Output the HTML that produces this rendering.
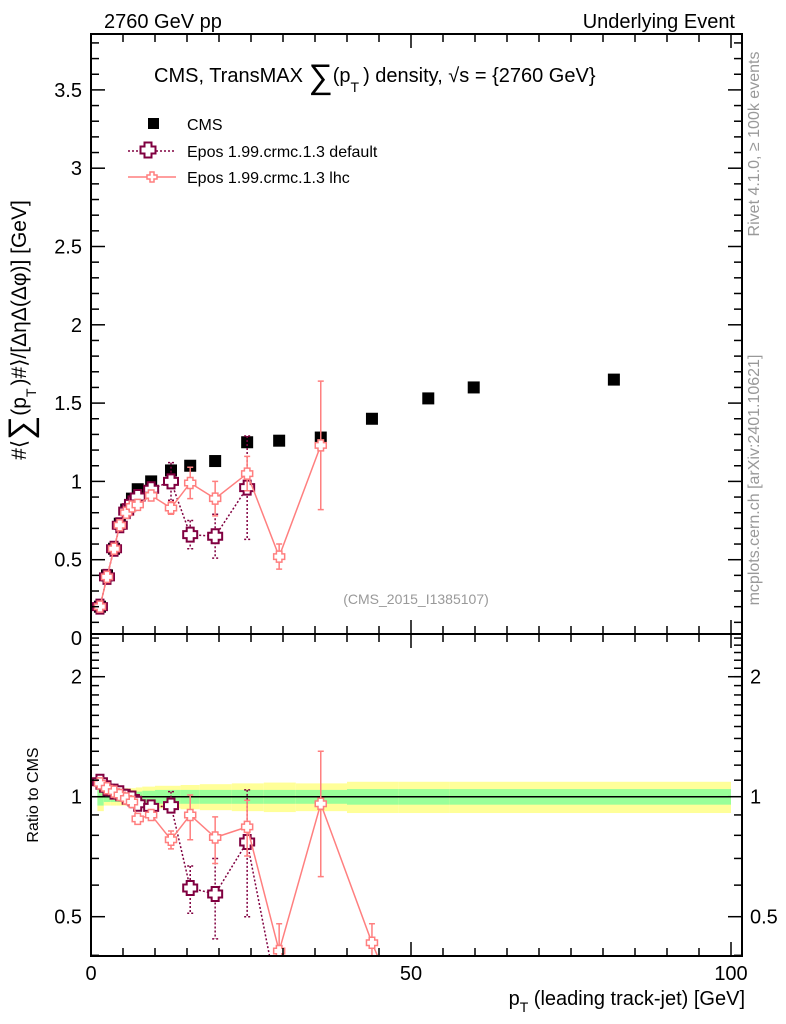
<!DOCTYPE html>
<html><head><meta charset="utf-8"><style>
html,body{margin:0;padding:0;background:#fff;width:786px;height:1024px;overflow:hidden;}
svg{display:block;font-family:"Liberation Sans",sans-serif;}
</style></head><body>
<svg id="c" width="786" height="1024" viewBox="0 0 786 1024">
<text x="104" y="28" font-size="20">2760 GeV pp</text>
<text x="735" y="28" font-size="20" text-anchor="end">Underlying Event</text>
<text x="154" y="82" font-size="20">CMS, TransMAX <tspan font-size="34" dy="6">∑</tspan><tspan dy="-6">(p</tspan><tspan font-size="14" dy="10">T</tspan><tspan dy="-10" dx="4">) density, √s = {2760 GeV}</tspan></text>
<text transform="translate(759,144) rotate(-90)" font-size="16" fill="#999" text-anchor="middle">Rivet 4.1.0, ≥ 100k events</text>
<text transform="translate(759,480) rotate(-90)" font-size="16" fill="#999" text-anchor="middle">mcplots.cern.ch [arXiv:2401.10621]</text>
<text x="416" y="604" font-size="14" fill="#999" text-anchor="middle">(CMS_2015_I1385107)</text>
<text transform="translate(26,330) rotate(-90)" font-size="21" text-anchor="middle">#⟨<tspan font-size="34" dy="6">∑</tspan><tspan dy="-6">(p</tspan><tspan font-size="14" dy="10">T</tspan><tspan dy="-10" dx="3">)#⟩/[ΔηΔ(Δφ)] [GeV]</tspan></text>
<text transform="translate(38,795) rotate(-90)" font-size="16" text-anchor="middle">Ratio to CMS</text>
<text x="745" y="1005" font-size="20" text-anchor="end">p<tspan font-size="14" dy="7">T</tspan><tspan dy="-7"> (leading track-jet) [GeV]</tspan></text>
<g>
<rect x="148" y="118" width="11" height="11" fill="#000"/>
<text x="187" y="130" font-size="16">CMS</text>
<line x1="128" y1="151" x2="176" y2="151" stroke="#800040" stroke-width="1.5" stroke-dasharray="2,2"/>
<path d="M148,144h7v4h4v7h-4v4h-7v-4h-4v-7h4z" transform="translate(-3.5,-1.5)" fill="#fff" stroke="#800040" stroke-width="2"/>
<text x="187" y="157" font-size="16">Epos 1.99.crmc.1.3 default</text>
<line x1="128" y1="177" x2="176" y2="177" stroke="#ff7f7f" stroke-width="1.5"/>
<path d="M150,172h4v3h3v4h-3v3h-4v-3h-3v-4h3z" fill="#fff" stroke="#ff7f7f" stroke-width="1.5"/>
<text x="187" y="183" font-size="16">Epos 1.99.crmc.1.3 lhc</text>
</g>
<g id="g"></g>
</svg>
<script>
const xVals=[1.4,2.5,3.6,4.5,5.5,6.4,7.3,9.4,12.5,15.5,19.4,24.4,29.4,35.9,43.9,52.7,59.8,81.7];
const cmsVals=[0.20,0.40,0.57,0.73,0.82,0.89,0.95,1.00,1.07,1.10,1.13,1.25,1.26,1.28,1.40,1.53,1.60,1.65];
const defVals=[0.20,0.39,0.57,0.72,0.81,0.86,0.90,0.95,1.00,0.66,0.65,0.96];
const defErr=[0.01,0.01,0.01,0.01,0.02,0.02,0.02,0.03,0.12,0.09,0.14,0.33];
const lhcVals=[0.20,0.39,0.57,0.72,0.80,0.84,0.85,0.91,0.83,0.99,0.89,1.05,0.52,1.23];
const lhcErr=[0.01,0.01,0.01,0.01,0.02,0.02,0.02,0.03,0.04,0.10,0.11,0.11,0.08,0.41];
const defRatio=[1.09,1.05,1.03,1.02,1.00,0.99,0.96,0.94,0.95,0.59,0.57,0.77,0.30];
const defRatioLo=[1.09,1.05,1.03,1.02,1.00,0.99,0.96,0.93,0.93,0.51,0.44,0.50,0.30];
const defRatioHi=[1.09,1.05,1.03,1.02,1.00,0.99,0.96,0.96,1.03,0.67,0.70,1.04,0.30];
const lhcRatio=[1.08,1.05,1.03,1.01,0.99,0.97,0.88,0.90,0.78,0.90,0.79,0.84,0.41,0.96,0.43,0.20];
const lhcRatioLo=[1.08,1.05,1.03,1.01,0.99,0.97,0.86,0.88,0.74,0.78,0.68,0.71,0.36,0.63,0.38,0.20];
const lhcRatioHi=[1.08,1.05,1.03,1.01,0.99,0.97,0.90,0.92,0.82,1.01,0.89,0.98,0.48,1.30,0.48,0.20];
const bandEdges=[1,2,3,4,5,6,7,8,10,14,17,22,27,32,40,48,56,70,100];
const greenHalf=[0.05,0.03,0.03,0.03,0.03,0.03,0.03,0.035,0.04,0.04,0.04,0.04,0.04,0.04,0.045,0.045,0.045,0.045];
const yellowHalf=[0.08,0.05,0.05,0.05,0.05,0.05,0.055,0.06,0.065,0.07,0.075,0.08,0.085,0.08,0.09,0.09,0.09,0.09];
const yTicks=[0,0.5,1,1.5,2,2.5,3,3.5];
const xTicks=[0,50,100];
const rTicks=[0.5,1,2];

const NS="http://www.w3.org/2000/svg";
const g=document.getElementById('g');
const L=91,R=742,T=34,MB=634,RB=956;
const sx=v=>L+v*6.4;
const sy=v=>638-v*156.6;
const sr=v=>796.7-Math.log10(v)*398.6;
function el(t,a,p){const e=document.createElementNS(NS,t);for(const k in a)e.setAttribute(k,a[k]);(p||g).appendChild(e);return e;}
const defs=el('defs',{});
const c1=el('clipPath',{id:'cm'},defs);el('rect',{x:L,y:T,width:R-L,height:MB-T},c1);
const c2=el('clipPath',{id:'cr'},defs);el('rect',{x:L,y:MB,width:R-L,height:RB-MB},c2);
const main=el('g',{'clip-path':'url(#cm)'});


const rat=el('g',{'clip-path':'url(#cr)'});


for(let i=0;i<greenHalf.length;i++){
 const x0=sx(bandEdges[i]),x1=sx(bandEdges[i+1]);
 const y=el('rect',{x:x0,y:sr(1+yellowHalf[i]),width:x1-x0,height:sr(1-yellowHalf[i])-sr(1+yellowHalf[i]),fill:'#ffff99'},rat);
 
 
 const gr=el('rect',{x:x0,y:sr(1+greenHalf[i]),width:x1-x0,height:sr(1-greenHalf[i])-sr(1+greenHalf[i]),fill:'#99ff99'},rat);
 
 
}
const one=el('line',{x1:L,x2:sx(100),y1:sr(1),y2:sr(1),stroke:'#000','stroke-width':1.5},rat);


function cross(p,x,y,s,col,sw,name){
 const h=s/2,q=s/4;
 const d=`M${x-q},${y-h}h${2*q}v${h-q}h${h-q}v${2*q}h${-(h-q)}v${h-q}h${-2*q}v${-(h-q)}h${-(h-q)}v${-2*q}h${h-q}z`;
 const e=el('path',{d:d,fill:'#fff',stroke:col,'stroke-width':sw},p);
 
 
}
function series(p,xs,vals,lo,hi,fy,col,dash,s,sw,name){
 const pts=vals.map((v,i)=>sx(xs[i])+','+fy(v)).join(' ');
 const pl=el('polyline',{points:pts,fill:'none',stroke:col,'stroke-width':1.5,'stroke-dasharray':dash},p);
 
 
 vals.forEach((v,i)=>{
  const x=sx(xs[i]);
  const e=el('path',{d:`M${x},${fy(hi[i])}V${fy(lo[i])}M${x-3},${fy(hi[i])}h6M${x-3},${fy(lo[i])}h6`,stroke:col,'stroke-width':1.5,'stroke-dasharray':dash,fill:'none'},p);
  
  
 });
 vals.forEach((v,i)=>cross(p,sx(xs[i]),fy(v),s,col,sw,name+'-point'));
}
cmsVals.forEach((v,i)=>{
 const r=el('rect',{x:sx(xVals[i])-6,y:sy(v)-6,width:12,height:12,fill:'#000'},main);
 
 
});
series(main,xVals,defVals,defVals.map((v,i)=>v-defErr[i]),defVals.map((v,i)=>v+defErr[i]),sy,'#800040','2,2',14,2,'default');
series(main,xVals,lhcVals,lhcVals.map((v,i)=>v-lhcErr[i]),lhcVals.map((v,i)=>v+lhcErr[i]),sy,'#ff7f7f','',11,1.5,'lhc');
series(rat,xVals,defRatio,defRatioLo,defRatioHi,sr,'#800040','2,2',14,2,'default-ratio');
series(rat,xVals,lhcRatio,lhcRatioLo,lhcRatioHi,sr,'#ff7f7f','',11,1.5,'lhc-ratio');
[[T,MB],[MB,RB]].forEach(([a,b],k)=>{
 const f=el('rect',{x:L,y:a,width:R-L,height:b-a,fill:'none',stroke:'#000','stroke-width':2});
 
 
});
function tick(x1,y1,x2,y2){el('line',{x1,y1,x2,y2,stroke:'#000','stroke-width':1.5});}
for(let v=0;v<=100;v+=5){
 const x=sx(v),len=v%50===0?14:8;
 [[T,MB],[MB,RB]].forEach(([a,b])=>{tick(x,b,x,b-len);tick(x,a,x,a+len);});
}
xTicks.forEach(v=>{
 const t=el('text',{x:sx(v),y:980,'font-size':20,'text-anchor':'middle'});t.textContent=v;
 
 
});
for(let i=1;i<=38;i++){
 const v=i/10,y=sy(v);if(y<T)continue;
 const len=i%5===0?14:8;tick(L,y,L+len,y);tick(R,y,R-len,y);
}
yTicks.forEach(v=>{
 const t=el('text',{x:82,y:sy(v)+7,'font-size':20,'text-anchor':'end'});t.textContent=v;
 
 
});
[0.4,0.5,0.6,0.7,0.8,0.9,1,2].forEach(v=>{const y=sr(v);const len=rTicks.includes(v)?14:8;tick(L,y,L+len,y);tick(R,y,R-len,y);});
for(let v=1.1;v<2.55;v+=0.1){const y=sr(v);if(y<MB)continue;tick(L,y,L+8,y);tick(R,y,R-8,y);}
rTicks.forEach(v=>{
 [[82,'end'],[750,'start']].forEach(([x,a])=>{
  const t=el('text',{x:x,y:sr(v)+7,'font-size':20,'text-anchor':a});t.textContent=v;
  
  
 });
});
</script>
</body></html>
